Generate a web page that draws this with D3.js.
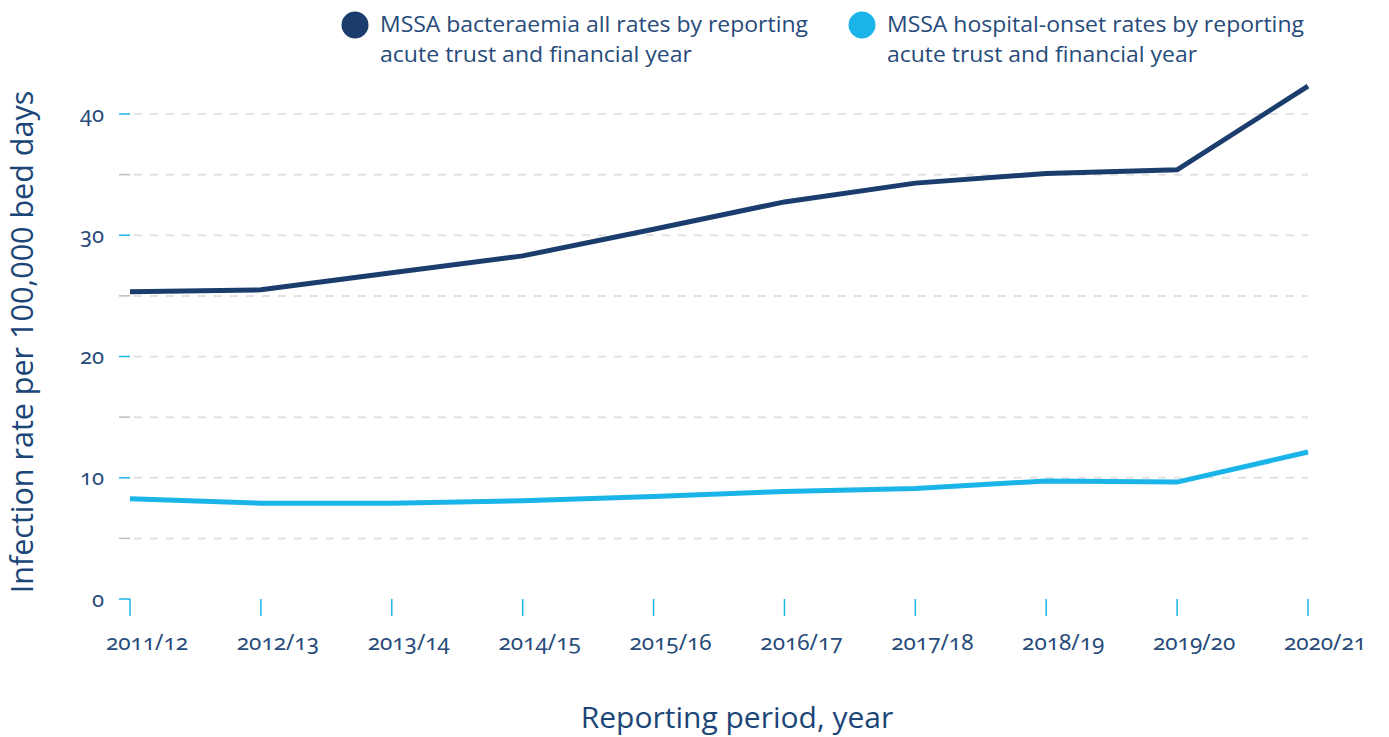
<!DOCTYPE html>
<html><head><meta charset="utf-8">
<script src="https://cdn.jsdelivr.net/npm/d3@7"></script>
<style>
body{margin:0;background:#fff;}
svg{display:block;font-family:"Open Sans","Noto Sans",sans-serif;}
.num{font-family:"Noto Sans","Open Sans",sans-serif;font-variant-numeric:oldstyle-nums;font-feature-settings:"onum" 1;}
</style></head>
<body><svg id="c" width="1389" height="737"></svg>
<script>
const categories = ["2011/12","2012/13","2013/14","2014/15","2015/16","2016/17","2017/18","2018/19","2019/20","2020/21"];
const allRates = [25.35,25.5,26.9,28.3,30.5,32.75,34.3,35.1,35.4,42.3];
const hospitalOnset = [8.26,7.9,7.9,8.1,8.45,8.87,9.12,9.73,9.64,12.12];
const yTicks = [0,5,10,15,20,25,30,35,40];
const yLabels = ["0","","10","","20","","30","","40"];
const seriesNames = ["MSSA bacteraemia all rates by reporting|acute trust and financial year","MSSA hospital-onset rates by reporting|acute trust and financial year"];

const dark="#1b3d6d", light="#1bb4e8", text="#274b7a";
const svg=d3.select("#c");
const x=d3.scalePoint().domain(categories).range([130,1308]);
const y=d3.scaleLinear().domain([0,40]).range([599,114]);

// gridlines
svg.append("g").selectAll("line").data(yTicks.filter(d=>d>0)).join("line")
  .attr("x1",130).attr("x2",1308).attr("y1",d=>y(d)).attr("y2",d=>y(d))
  .attr("stroke","#e3e3e3").attr("stroke-width",2).attr("stroke-dasharray","8,8").attr("stroke-dashoffset",-4);

// y ticks
svg.append("g").selectAll("line").data(yTicks).join("line")
  .attr("x1",119).attr("x2",130).attr("y1",d=>y(d)).attr("y2",d=>y(d))
  .attr("stroke",(d,i)=>yLabels[i]?light:"#bdbdbd").attr("stroke-width",1.5);
svg.append("g").selectAll("text").data(yTicks).join("text")
  .attr("class","num")
  .attr("x",104).attr("y",d=>y(d)).attr("dy","0.35em").attr("text-anchor","end")
  .attr("font-size",22).attr("fill",text).text((d,i)=>yLabels[i]);

// x ticks
svg.append("g").selectAll("line").data(categories).join("line")
  .attr("x1",d=>x(d)).attr("x2",d=>x(d)).attr("y1",599).attr("y2",616)
  .attr("stroke",light).attr("stroke-width",1.5);
svg.append("g").selectAll("text").data(categories).join("text")
  .attr("class","num")
  .attr("x",d=>x(d)+17).attr("y",650).attr("text-anchor","middle")
  .attr("font-size",22.5).attr("fill",text).text(d=>d);

// lines
const line=vals=>d3.line().x((d,i)=>x(categories[i])).y(d=>y(d))(vals);
svg.append("path").attr("d",line(hospitalOnset)).attr("fill","none").attr("stroke",light).attr("stroke-width",5).attr("stroke-linejoin","miter");
svg.append("path").attr("d",line(allRates)).attr("fill","none").attr("stroke",dark).attr("stroke-width",5).attr("stroke-linejoin","miter");

// axis titles
svg.append("text").attr("x",737).attr("y",728).attr("text-anchor","middle")
  .attr("font-size",30).attr("fill","#1b4677").text("Reporting period, year");
svg.append("text").attr("transform","translate(33,342) rotate(-90)").attr("text-anchor","middle")
  .attr("font-size",30.5).attr("fill","#1b4677").text("Infection rate per 100,000 bed days");

// legend
const leg=[{c:dark,x:355,w:[428,312]},{c:light,x:862,w:[417,310]}];
leg.forEach((l,i)=>{
  svg.append("circle").attr("cx",l.x).attr("cy",25).attr("r",13.5).attr("fill",l.c);
  seriesNames[i].split("|").forEach((s,j)=>{
    svg.append("text").attr("x",l.x+25).attr("y",32+j*30).attr("font-size",22).attr("fill",text)
      .attr("textLength",l.w[j]).attr("lengthAdjust","spacingAndGlyphs").text(s);
  });
});
</script></body></html>
